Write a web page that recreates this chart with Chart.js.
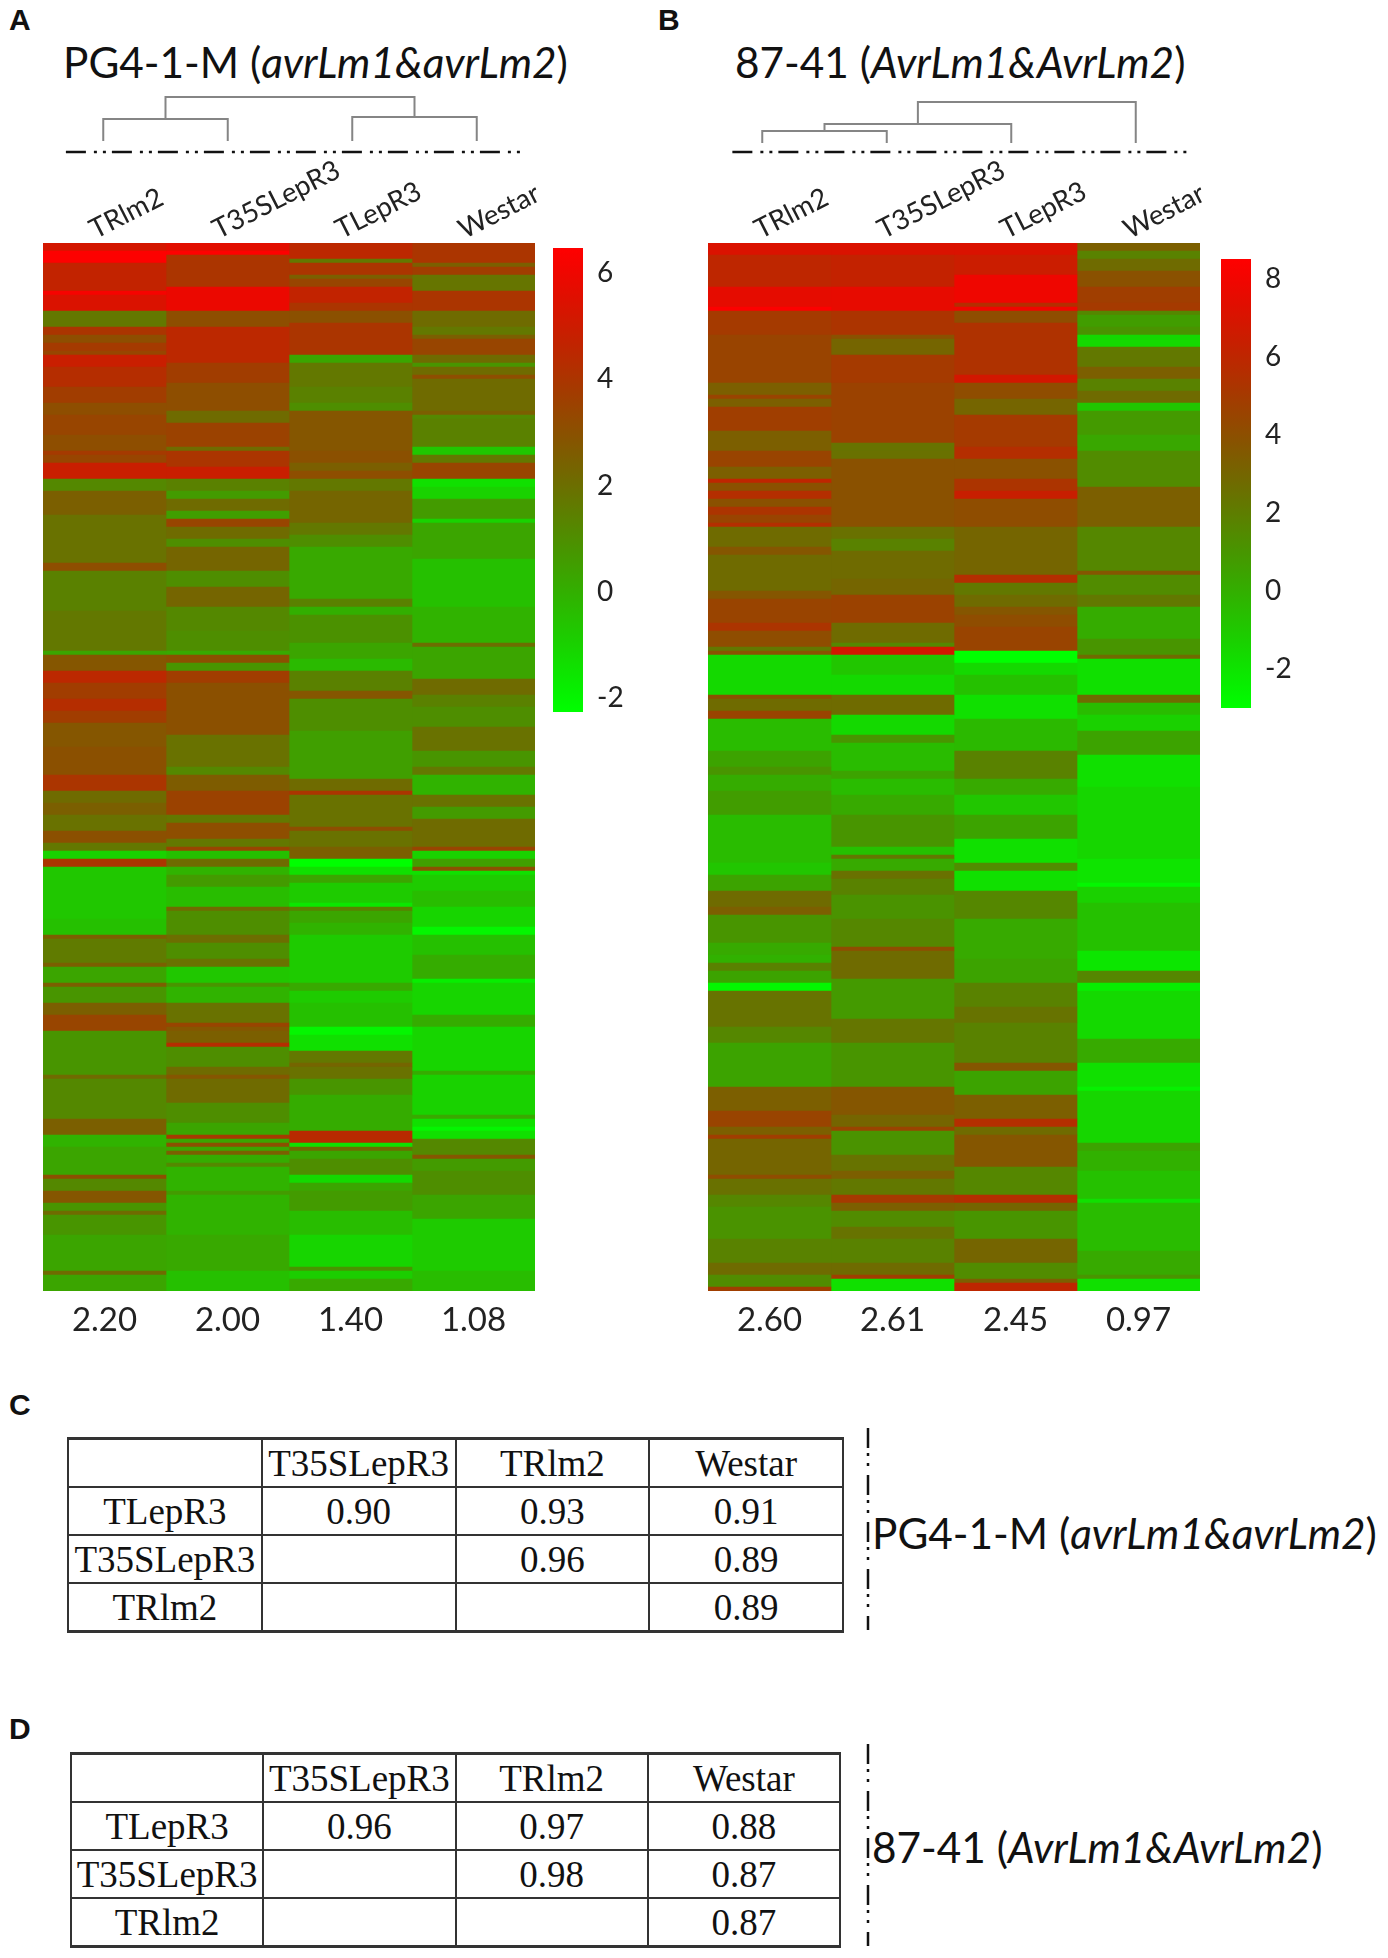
<!DOCTYPE html>
<html>
<head>
<meta charset="utf-8">
<script src="https://cdn.jsdelivr.net/npm/chart.js@4"></script>
<style>
    html, body { margin: 0; padding: 0; background: #fff; }
    #page { position: relative; width: 1388px; height: 1958px; overflow: hidden; }
    canvas { position: absolute; }
    .letter { position: absolute; font: bold 30px "Liberation Sans"; color: #111; line-height: 30px; }
    .title { position: absolute; font: 42.3px Lato; color: #111; line-height: 46px; white-space: nowrap; }
    table { position: absolute; border-collapse: collapse; table-layout: fixed; font: 37px "Liberation Serif"; color: #111; }
    td { border: 2px solid #333; padding: 0; text-align: center; height: 46px; white-space: nowrap; overflow: visible; }
    tr:first-child td { border-top-width: 3px; }
    tr:last-child td { border-bottom-width: 3px; }
    svg { position: absolute; left: 0; top: 0; }
</style>
</head>
<body>
<div id="page">
    <div class="letter" style="left:9px;top:5px">A</div>
    <div class="letter" style="left:658px;top:5px">B</div>
    <div class="letter" style="left:9px;top:1390px">C</div>
    <div class="letter" style="left:9px;top:1714px">D</div>

    <div class="title" style="left:63px;top:39px">PG4-1-M (<i>avrLm1&amp;avrLm2</i>)</div>
    <div class="title" style="left:735px;top:39px">87-41 (<i>AvrLm1&amp;AvrLm2</i>)</div>
    <div class="title" style="left:872px;top:1510px">PG4-1-M (<i>avrLm1&amp;avrLm2</i>)</div>
    <div class="title" style="left:872px;top:1824px">87-41 (<i>AvrLm1&amp;AvrLm2</i>)</div>

    <canvas id="dendroA" width="498" height="80" style="left:41px;top:81px"></canvas>
    <canvas id="dendroB" width="498" height="80" style="left:700.4px;top:83px"></canvas>
    <canvas id="heatA" width="660" height="1190" style="left:0;top:160px"></canvas>
    <canvas id="heatB" width="680" height="1190" style="left:665px;top:160px"></canvas>
    <canvas id="barA" width="90" height="544" style="left:553px;top:208px"></canvas>
    <canvas id="barB" width="90" height="529" style="left:1220.5px;top:219px"></canvas>

    <table id="tableC" style="left:67px;top:1437px;width:777px"></table>
    <table id="tableD" style="left:70px;top:1752px;width:771px"></table>

    <svg width="1388" height="1958">
        <line x1="868" y1="1428" x2="868" y2="1630" stroke="#111" stroke-width="2.5" stroke-dasharray="20 5 3 7 3 9"></line>
        <line x1="868" y1="1744" x2="868" y2="1946" stroke="#111" stroke-width="2.5" stroke-dasharray="20 5 3 7 3 9"></line>
    </svg>
</div>

<script>
// Column names and the numbers printed under each heatmap
const columnsA = ['TRlm2', 'T35SLepR3', 'TLepR3', 'Westar'];
const columnsB = ['TRlm2', 'T35SLepR3', 'TLepR3', 'Westar'];
const meansA = ['2.20', '2.00', '1.40', '1.08'];
const meansB = ['2.60', '2.61', '2.45', '0.97'];

const rowCount = 262;

// Colour scale ranges
const rangeA = [-2.26, 6.47];
const rangeB = [-3, 8.5];

// Heatmap bands: [first gene row, log2 value], each band runs to the next one
const aTrlm2 = [[0,5.2],[2,6.4],[5,4.7],[12,6.2],[13,5.4],[17,1.7],[21,4.0],[23,3.1],[25,3.8],[27,3.4],[28,4.9],[31,4.3],[36,3.7],[40,3.1],[43,3.4],[48,3.1],[52,3.8],[53,3.4],[55,4.9],[59,1.2],[62,2.5],[68,1.9],[80,3.1],[82,1.4],[92,1.7],[102,0.3],[103,2.8],[107,4.5],[110,3.7],[114,4.3],[117,3.7],[120,2.8],[126,3.0],[133,4.0],[137,2.1],[140,2.5],[143,1.9],[147,3.0],[150,1.7],[152,-1.0],[154,4.0],[156,-0.7],[169,-0.5],[173,2.5],[174,1.6],[180,2.5],[181,0.3],[185,2.5],[186,0.8],[190,2.5],[193,3.4],[197,0.8],[208,2.1],[209,1.2],[219,2.5],[223,-0.1],[226,0.3],[233,3.0],[234,1.2],[237,2.8],[240,0.8],[242,2.1],[243,0.8],[248,0.3],[257,2.1],[258,0.3]];
const aT35s = [[0,5.6],[2,6.4],[3,4.0],[11,5.9],[17,3.1],[21,4.5],[30,3.7],[35,3.1],[42,2.1],[45,3.5],[51,2.1],[52,4.0],[56,4.9],[59,1.4],[62,0.6],[64,2.1],[67,0.5],[69,3.4],[71,2.1],[74,1.0],[76,2.3],[82,1.0],[86,2.3],[91,1.2],[97,1.0],[102,0.2],[103,3.0],[105,0.8],[107,3.7],[110,3.0],[123,1.9],[131,1.2],[133,2.6],[137,3.5],[143,1.7],[145,3.1],[149,1.7],[151,3.4],[152,-0.5],[154,2.1],[156,-0.1],[158,0.6],[161,-0.4],[166,2.1],[167,1.0],[173,2.0],[175,1.0],[179,1.9],[181,-0.7],[185,0.8],[186,-0.1],[190,1.9],[195,3.4],[196,2.8],[197,2.5],[200,4.3],[201,1.0],[206,2.1],[208,2.8],[209,2.1],[215,1.0],[220,0.3],[223,3.8],[224,0.3],[225,3.0],[226,0.3],[227,2.5],[228,0.1],[230,1.2],[231,-0.1],[237,0.6],[238,-0.1],[248,0.2],[257,-0.5]];
const aTlep = [[0,4.5],[4,1.7],[5,4.0],[8,2.5],[9,3.4],[11,4.7],[15,4.0],[17,3.0],[20,4.0],[28,0.3],[30,1.7],[36,1.4],[40,1.0],[42,2.8],[52,3.0],[55,2.5],[57,3.1],[59,1.7],[62,2.3],[70,1.7],[73,1.0],[76,0.2],[89,1.4],[91,0.0],[93,0.9],[100,0.3],[104,-0.3],[107,1.4],[112,2.8],[114,1.0],[122,0.5],[134,2.1],[137,4.0],[138,1.9],[146,3.1],[147,1.9],[151,2.5],[154,-2.3],[156,-1.4],[158,0.3],[160,-0.8],[165,-1.6],[166,1.4],[167,0.3],[170,-0.1],[173,-0.8],[185,0.2],[187,-0.8],[190,-0.5],[196,-2.0],[198,-1.4],[202,1.7],[205,2.3],[206,1.9],[209,0.8],[213,0.1],[222,4.4],[225,-1.4],[226,2.1],[227,0.3],[229,1.0],[233,-1.2],[235,0.3],[237,0.6],[242,-0.4],[248,-1.1],[256,0.8],[257,-0.9],[259,0.2]];
const aWestar = [[0,4.0],[5,2.5],[6,3.7],[8,1.8],[12,4.0],[17,2.1],[21,1.7],[23,2.5],[24,3.4],[28,2.1],[30,0.8],[31,2.1],[33,3.1],[34,2.1],[42,2.5],[43,1.2],[44,1.4],[51,-0.7],[53,1.7],[55,3.4],[59,-1.4],[61,-1.0],[64,0.6],[69,-1.0],[70,0.3],[79,-0.5],[91,-0.1],[100,2.0],[101,0.3],[109,2.1],[113,1.4],[116,1.0],[121,1.9],[127,0.8],[131,1.7],[133,-0.1],[138,1.9],[141,0.6],[144,2.1],[151,3.4],[152,-1.0],[154,0.5],[156,3.0],[157,-1.4],[158,-0.8],[162,-0.4],[166,-1.1],[171,-2.0],[173,-0.5],[178,0.1],[184,-1.8],[185,-1.1],[193,0.1],[196,-1.1],[207,0.1],[208,-1.0],[218,0.2],[219,-1.4],[221,-2.0],[222,-1.4],[224,1.2],[228,2.8],[229,0.6],[232,1.0],[238,0.3],[244,-0.8],[257,-0.4]];

const bTrlm2 = [[0,7.1],[3,6.0],[11,7.5],[16,8.4],[17,5.0],[23,4.5],[35,3.3],[38,4.5],[39,3.3],[41,4.8],[47,3.3],[52,4.5],[56,3.3],[59,6.0],[60,3.9],[62,5.6],[64,3.9],[66,5.3],[68,4.5],[70,5.6],[71,2.75],[76,3.7],[78,2.75],[87,3.7],[89,4.5],[95,5.3],[97,4.1],[101,2.2],[102,3.9],[103,-1.6],[113,3.9],[114,2.75],[117,4.5],[119,-0.5],[127,0.45],[131,1.0],[133,0.1],[137,0.7],[143,-0.5],[155,-0.9],[158,0.45],[162,2.75],[166,3.3],[168,1.0],[175,0.2],[178,-0.1],[180,1.8],[182,0.45],[185,-2.7],[187,2.4],[196,1.6],[200,0.45],[211,3.3],[217,4.5],[221,3.3],[223,4.8],[224,3.0],[233,4.1],[234,2.5],[238,1.6],[241,1.1],[249,1.8],[255,2.75],[258,1.4],[261,4.8]];
const bT35s = [[0,7.1],[3,6.2],[11,7.6],[17,5.3],[23,3.9],[24,3.0],[28,5.0],[35,4.6],[50,2.4],[52,2.5],[54,3.9],[71,2.5],[74,1.8],[77,2.75],[84,3.0],[88,4.6],[95,2.75],[100,1.6],[101,6.8],[103,-0.9],[108,-1.6],[113,2.75],[118,-1.6],[123,1.0],[125,-0.5],[132,0.45],[134,-0.5],[138,0.2],[143,1.0],[151,-0.7],[153,2.2],[154,0.2],[157,2.5],[159,1.8],[163,1.1],[169,1.6],[176,4.1],[177,2.75],[184,0.8],[194,2.3],[200,1.0],[211,3.7],[218,3.0],[221,4.5],[222,1.1],[228,2.4],[232,3.3],[234,2.2],[238,5.0],[240,3.3],[242,1.4],[246,2.4],[249,1.8],[255,2.75],[258,4.8],[259,-1.85]];
const bTlep = [[0,7.1],[3,6.5],[8,7.9],[15,5.6],[16,7.9],[17,4.1],[20,5.4],[33,6.8],[35,4.1],[39,3.0],[43,5.0],[51,5.6],[54,3.9],[59,5.3],[62,6.4],[64,4.1],[71,3.0],[83,5.6],[85,2.2],[88,2.75],[91,3.7],[93,4.1],[96,4.5],[102,-3.0],[105,-1.6],[108,-0.7],[113,-1.85],[119,-0.4],[127,1.8],[134,0.2],[138,-0.9],[143,0.45],[149,-1.85],[155,1.4],[157,-1.85],[162,1.6],[169,0.2],[179,0.45],[185,1.8],[191,2.4],[195,1.8],[205,3.7],[207,0.45],[213,3.3],[219,5.6],[221,2.75],[223,3.7],[231,1.6],[238,5.6],[240,3.0],[242,1.0],[249,3.0],[255,1.4],[259,3.3],[260,6.0]];
const bWestar = [[0,3.3],[2,1.8],[4,2.75],[7,3.9],[11,4.8],[15,5.0],[17,1.6],[18,0.7],[21,1.1],[23,-1.6],[26,2.2],[31,3.3],[34,1.8],[37,2.75],[40,-0.9],[42,0.8],[48,0.3],[52,1.4],[61,3.3],[71,1.6],[82,3.7],[83,1.4],[88,2.2],[91,0.1],[99,1.0],[103,2.75],[104,-1.85],[113,2.75],[115,-0.5],[118,-1.3],[122,0.45],[128,-1.85],[136,-1.5],[154,-2.0],[160,-2.7],[161,-1.3],[165,-0.7],[177,-2.1],[182,1.6],[185,-2.4],[187,-1.6],[199,0.2],[205,-1.85],[211,-2.5],[212,-1.5],[225,0.45],[227,-0.1],[232,-0.7],[239,-1.85],[240,-0.5],[252,0.2],[258,1.0],[259,-1.85]];

// Dendrograms: [left x, left height, right x, right height, merge height], leaves sit at 0..3
const mergesA = [[0,0,1,0,1.1],[2,0,3,0,1.2],[0.5,1.1,2.5,1.2,2.2]];
const mergesB = [[0,0,1,0,0.6],[0.5,0.6,2,0,0.95],[1.25,0.95,3,0,2.05]];
const axisLineA = [-0.3, 3.36, -0.55];
const axisLineB = [-0.24, 3.43, -0.45];

// Correlation tables
const tableHead = ['', 'T35SLepR3', 'TRlm2', 'Westar'];
const tableRowNames = ['TLepR3', 'T35SLepR3', 'TRlm2'];
const corrC = [['0.90', '0.93', '0.91'], ['', '0.96', '0.89'], ['', '', '0.89']];
const corrD = [['0.96', '0.97', '0.88'], ['', '0.98', '0.87'], ['', '', '0.87']];

Chart.defaults.animation = false;
Chart.defaults.responsive = false;
Chart.defaults.devicePixelRatio = 1;
Chart.defaults.plugins.tooltip.enabled = false;
Chart.defaults.plugins.legend.display = false;

// green -> red, a little darker through the middle like the colour bars in the figure
function rampColor(t) {
    const r = Math.round(255 * Math.pow(t, 1.2));
    const g = Math.round(255 * Math.pow(1 - t, 1.25));
    return `rgb(${r}, ${g}, 0)`;
}

function heatColor(value, range) {
    return rampColor(Math.max(0, Math.min(1, (value - range[0]) / (range[1] - range[0]))));
}

function bandsToBars(column, bands) {
    return bands.map((band, i) => ({
        x: column,
        y: [band[0], i + 1 < bands.length ? bands[i + 1][0] : rowCount],
        v: band[1]
    }));
}

function createHeatmap(id, columns, means, columnBands, range) {
    new Chart(document.getElementById(id), {
        type: 'bar',
        data: {
            labels: columns,
            datasets: columnBands.map((bands, i) => ({
                data: bandsToBars(columns[i], bands),
                grouped: false,
                categoryPercentage: 1,
                barPercentage: 1,
                borderWidth: 0,
                backgroundColor: ctx => heatColor(ctx.raw.v, range)
            }))
        },
        options: {
            layout: {
                padding: { left: 43, right: document.getElementById(id).width - 43 - 492, top: 0, bottom: 0 }
            },
            scales: {
                x: {
                    position: 'top',
                    grid: { display: false, drawTicks: false },
                    border: { display: false },
                    afterFit: scale => { scale.height = 83; },
                    ticks: {
                        color: '#222',
                        font: { family: 'Lato', size: 27.5 },
                        minRotation: 27,
                        maxRotation: 27,
                        padding: -3,
                        labelOffset: 2,
                        autoSkip: false
                    }
                },
                xMeans: {
                    position: 'bottom',
                    type: 'category',
                    labels: means,
                    offset: true,
                    grid: { display: false, drawTicks: false },
                    border: { display: false },
                    afterFit: scale => { scale.height = 59; },
                    ticks: {
                        color: '#222',
                        font: { family: 'Lato', size: 33 },
                        maxRotation: 0,
                        padding: 10,
                        autoSkip: false
                    }
                },
                y: { display: false, reverse: true, min: 0, max: rowCount }
            }
        }
    });
}

function createColorBar(id, range) {
    new Chart(document.getElementById(id), {
        type: 'bar',
        data: {
            labels: [''],
            datasets: [{
                data: [range],
                categoryPercentage: 1,
                barPercentage: 1,
                borderWidth: 0,
                backgroundColor: ctx => {
                    const area = ctx.chart.chartArea;
                    if (!area) {
                        return '#707000';
                    }
                    const gradient = ctx.chart.ctx.createLinearGradient(0, area.bottom, 0, area.top);
                    for (let i = 0; i <= 20; i++) {
                        gradient.addColorStop(i / 20, rampColor(i / 20));
                    }
                    return gradient;
                }
            }]
        },
        options: {
            layout: { padding: { top: 40, bottom: 40 } },
            scales: {
                x: { display: false },
                y: {
                    position: 'right',
                    min: range[0],
                    max: range[1],
                    grid: { display: false, drawTicks: false },
                    border: { display: false },
                    afterFit: scale => { scale.width = 60; },
                    ticks: {
                        stepSize: 2,
                        includeBounds: false,
                        color: '#222',
                        padding: 14,
                        font: { family: 'Lato', size: 28 }
                    }
                }
            }
        }
    });
}

function createDendrogram(id, merges, axisLine) {
    const datasets = merges.map(m => ({
        data: [{ x: m[0], y: m[1] }, { x: m[0], y: m[4] }, { x: m[2], y: m[4] }, { x: m[2], y: m[3] }],
        showLine: true,
        pointRadius: 0,
        borderColor: '#858585',
        borderWidth: 2
    }));
    datasets.push({
        data: [{ x: axisLine[0], y: axisLine[2] }, { x: axisLine[1], y: axisLine[2] }],
        showLine: true,
        pointRadius: 0,
        borderColor: '#111',
        borderWidth: 2.5,
        borderDash: [20, 8, 3, 6, 3, 6]
    });
    new Chart(document.getElementById(id), {
        type: 'scatter',
        data: { datasets: datasets },
        options: {
            scales: {
                x: { display: false, min: -0.5, max: 3.5 },
                y: { display: false, min: -1, max: 3 }
            }
        }
    });
}

function fillTable(id, corr) {
    const rows = [tableHead].concat(tableRowNames.map((name, i) => [name].concat(corr[i])));
    document.getElementById(id).innerHTML = rows.map(row =>
        '<tr>' + row.map(cell => `<td>${cell}</td>`).join('') + '</tr>'
    ).join('');
}

createHeatmap('heatA', columnsA, meansA, [aTrlm2, aT35s, aTlep, aWestar], rangeA);
createHeatmap('heatB', columnsB, meansB, [bTrlm2, bT35s, bTlep, bWestar], rangeB);
createColorBar('barA', rangeA);
createColorBar('barB', rangeB);
createDendrogram('dendroA', mergesA, axisLineA);
createDendrogram('dendroB', mergesB, axisLineB);
fillTable('tableC', corrC);
fillTable('tableD', corrD);
</script>
</body>
</html>
